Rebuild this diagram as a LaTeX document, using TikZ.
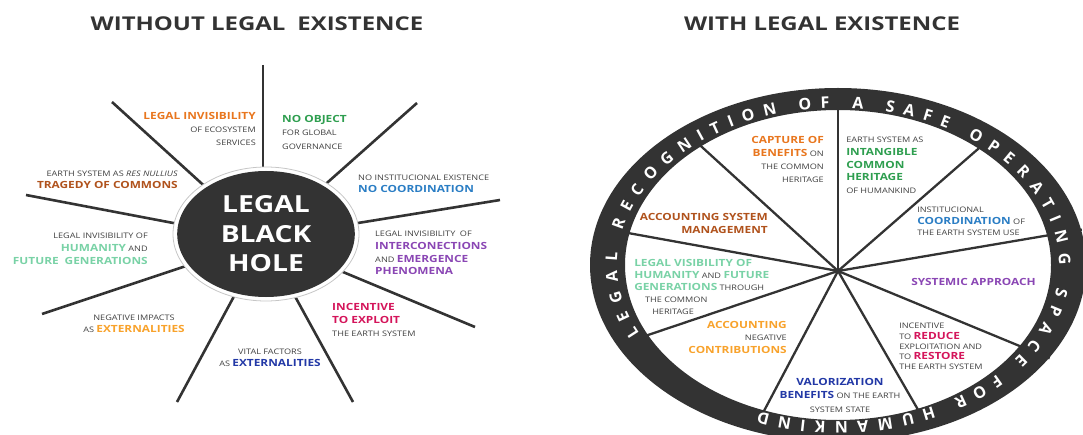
\documentclass[tikz,border=0pt]{standalone}
\usepackage{fontspec}
\setmainfont{Open Sans}
\newfontfamily\hlf[Scale=1.3]{Open Sans}
\newfontfamily\ringf[Scale=1.0]{Open Sans}
\usetikzlibrary{calc,decorations.text,shapes.geometric}
\definecolor{dk}{HTML}{333333}
\definecolor{tg}{HTML}{404040}
\definecolor{or1}{HTML}{E8761E}
\definecolor{br}{HTML}{B0521C}
\definecolor{gr}{HTML}{2E9E4F}
\definecolor{bl}{HTML}{2A7DC4}
\definecolor{lg}{HTML}{79D2A6}
\definecolor{pu}{HTML}{8A46B4}
\definecolor{or2}{HTML}{F8A22B}
\definecolor{db}{HTML}{2238A6}
\definecolor{cr}{HTML}{D4145A}
\newcommand\hl[2]{{\hlf\bfseries\color{#1}#2}}
\tikzset{
  txt/.style={inner sep=0pt, xscale=1.2, text=tg, font=\fontsize{7.6}{#1}\selectfont},
  txt/.default=13,
  spoke/.style={draw=dk, line width=2.6pt},
  rspoke/.style={draw=dk, line width=2.3pt},
  ttl/.style={inner sep=0pt, text=dk, xscale=1.26, font=\fontsize{19}{19}\selectfont\bfseries},
}
\begin{document}
\begin{tikzpicture}[x=1pt,y=1pt]
\useasboundingbox (0,0) rectangle (1083,434);
% titles
\node[ttl] (tl) at (257,410) {WITHOUT LEGAL\enspace EXISTENCE};
\node[ttl] (tr) at (822,410) {WITH LEGAL EXISTENCE};
% ---------- left diagram ----------
\coordinate (hc) at (266,200);
\foreach \n/\ox/\oy/\ix/\iy in {1/263/369/263/267, 2/112/332/200/252, 3/26/239/168/212,
  4/42/120/180/166, 5/177/32/232/134, 6/353/32/297/134, 7/475/107/343/162,
  8/500/234/358/211, 9/417/331/328/252}{
  \coordinate (lo\n) at (\ox,\oy);
  \coordinate (li\n) at (\ix,\iy);
  \draw[spoke] (lo\n) -- ($(li\n)!-25pt!(lo\n)$);
}
\fill[white, draw=gray!45, line width=0.8pt] (hc) ellipse[x radius=93pt, y radius=67pt];
\node[shape=ellipse, fill=dk, inner sep=0pt, minimum width=148pt, minimum height=126pt,
  xscale=1.2, text=white, align=center, font=\fontsize{23.5}{29.5}\selectfont\bfseries]
  (hole) at (hc) {LEGAL\\BLACK\\HOLE};
\node[txt=13, align=right, anchor=north east] (t1) at (256,322) {\hl{or1}{LEGAL INVISIBILITY}\\OF ECOSYSTEM\\SERVICES};
\node[txt=13.5, align=left, anchor=north west] (t2) at (282,319) {\hl{gr}{NO OBJECT}\\FOR GLOBAL\\GOVERNANCE};
\node[txt=12, align=right, anchor=north east] (t3) at (178,263) {EARTH SYSTEM AS \textit{RES NULLIUS}\\\hl{br}{TRAGEDY OF COMMONS}};
\node[txt=11.5, align=left, anchor=north west] (t4) at (358,259) {NO INSTITUCIONAL EXISTENCE\\\hl{bl}{NO COORDINATION}};
\node[txt=13, align=right, anchor=north east] (t5) at (148,201) {LEGAL INVISIBILITY OF\\\hl{lg}{HUMANITY} AND\\\hl{lg}{FUTURE\enspace GENERATIONS}};
\node[txt=12.7, align=left, anchor=north west] (t6) at (375,203) {LEGAL INVISIBILITY\enspace OF\\\hl{pu}{INTERCONECTIONS}\\AND \hl{pu}{EMERGENCE}\\\hl{pu}{PHENOMENA}};
\node[txt=12, align=center, anchor=north] (t7) at (134,119) {NEGATIVE IMPACTS\\AS \hl{or2}{EXTERNALITIES}};
\node[txt=12, align=center, anchor=north] (t8) at (270,85) {VITAL FACTORS\\AS \hl{db}{EXTERNALITIES}};
\node[txt=13, align=left, anchor=north west] (t9) at (332,131) {\hl{cr}{INCENTIVE}\\\hl{cr}{TO EXPLOIT}\\THE EARTH SYSTEM};
% ---------- right diagram ----------
\coordinate (rc) at (838,169);
\coordinate (hub) at (838,163);
\foreach \n/\px/\py in {1/838/322, 2/703/286, 3/628/201, 4/648/99, 5/765/25,
  6/917/26, 7/1022/87, 8/1050/199, 9/978/285}{
  \coordinate (rp\n) at (\px,\py);
  \draw[rspoke] (hub) -- ($(hub)!1.15!(rp\n)$);
}
\fill[dk, even odd rule] (rc) ellipse[x radius=248pt, y radius=177pt]
  (rc) ellipse[x radius=213pt, y radius=155pt];
\path[decorate, decoration={text along path, text align=fit to path, text color=white,
  text={|\ringf\fontsize{16}{16}\selectfont\bfseries|LEGAL RECOGNITION OF A SAFE OPERATING SPACE FOR HUMANKIND}}]
  ($(rc)+(206:221pt and 157pt)$) arc[start angle=206, end angle=-111, x radius=221pt, y radius=157pt];
\node[txt=13, align=right, anchor=north east] (r1) at (824,298) {\hl{or1}{CAPTURE OF}\\\hl{or1}{BENEFITS} ON\\THE COMMON\\HERITAGE};
\node[txt=12.75, align=left, anchor=north west] (r2) at (846,297) {EARTH SYSTEM AS\\\hl{gr}{INTANGIBLE}\\\hl{gr}{COMMON}\\\hl{gr}{HERITAGE}\\OF HUMANKIND};
\node[txt=13, align=right, anchor=north east] (r3) at (768,221) {\hl{br}{ACCOUNTING SYSTEM}\\\hl{br}{MANAGEMENT}};
\node[txt=11.5, align=left, anchor=north west] (r4) at (917,227) {INSTITUCIONAL\\\hl{bl}{COORDINATION} OF\\THE EARTH SYSTEM USE};
\node[txt=12, align=left, anchor=north west] (r5) at (634,175) {\hl{lg}{LEGAL VISIBILITY OF}\\\hl{lg}{HUMANITY} AND \hl{lg}{FUTURE}\\\hl{lg}{GENERATIONS} THROUGH\\\hspace*{9pt}THE COMMON\\\hspace*{15pt}HERITAGE};
\node[txt=12.5, align=right, anchor=north east] (r6) at (787,113) {\hl{or2}{ACCOUNTING}\\NEGATIVE\\\hl{or2}{CONTRIBUTIONS}};
\node[txt, align=left, anchor=north west] (r7) at (911,156) {\hl{pu}{SYSTEMIC APPROACH}};
\node[txt=10.3, align=left, anchor=north west] (r8) at (899,111) {INCENTIVE\\TO \hl{cr}{REDUCE}\\EXPLOITATION AND\\TO \hl{cr}{RESTORE}\\THE EARTH SYSTEM};
\node[txt=13.5, align=center, anchor=north] (r9) at (840,56) {\hl{db}{VALORIZATION}\\\hl{db}{BENEFITS} ON THE EARTH\\SYSTEM STATE};
\end{tikzpicture}
\end{document}
